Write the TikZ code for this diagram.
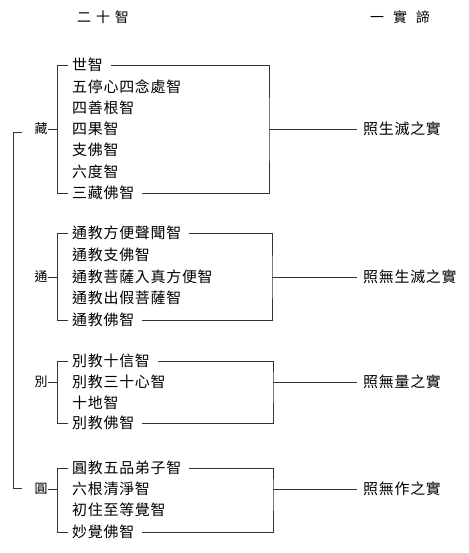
\documentclass[tikz,border=0pt]{standalone}
\usepackage{fontspec}
\newfontfamily\cjk{Noto Sans CJK TC}
\newfontfamily\cjkw[LetterSpace=5]{Noto Sans CJK TC}
\begin{document}
\begin{tikzpicture}[x=1bp,y=-1bp,
  item/.style={anchor=west,inner sep=0pt,font=\cjkw\fontsize{15}{15}\selectfont},
  lab/.style={inner sep=0pt,font=\cjk\fontsize{13}{13}\selectfont},
  res/.style={anchor=west,inner sep=0pt,font=\cjkw\fontsize{15}{15}\selectfont},
  head/.style={inner sep=0pt,font=\cjk\fontsize{14}{14}\selectfont},
  ln/.style={line width=0.8bp,black!80}]
\useasboundingbox (0,0) rectangle (469,553);
\fill[white] (0,0) rectangle (469,553);
% headers
\node[head] (h1) at (103,17) {二\hspace{5bp}十\hspace{5bp}智};
\node[head] (h2) at (400,17) {一\hspace{9bp}實\hspace{9bp}諦};
% group 1
\node[item] (a1) at (72,65) {世智};
\node[item] (a2) at (72,87) {五停心四念處智};
\node[item] (a3) at (72,108) {四善根智};
\node[item] (a4) at (72,129) {四果智};
\node[item] (a5) at (72,150) {支佛智};
\node[item] (a6) at (72,172) {六度智};
\node[item] (a7) at (72,193) {三藏佛智};
\node[lab] (A) at (41,129) {藏};
\node[res] (RA) at (363,129) {照生滅之實};
\coordinate (RA0) at (269,129);
\draw[ln] ([xshift=-4]a1.west) -- ++(-11,0) |- ([xshift=-4]a7.west);
\draw[ln] (A.east) -- ++(9.5,0);
\draw[ln] ([xshift=8]a1.east) -| (RA0) |- ([xshift=8]a7.east);
\draw[ln] (RA0) -- ([xshift=-6]RA.west);
% group 2
\node[item] (b1) at (72,233) {通教方便聲聞智};
\node[item] (b2) at (72,255) {通教支佛智};
\node[item] (b3) at (72,277) {通教菩薩入真方便智};
\node[item] (b4) at (72,298) {通教出假菩薩智};
\node[item] (b5) at (72,320) {通教佛智};
\node[lab] (B) at (41,277) {通};
\node[res] (RB) at (363,277) {照無生滅之實};
\coordinate (RB0) at (272,277);
\draw[ln] ([xshift=-4]b1.west) -- ++(-11,0) |- ([xshift=-4]b5.west);
\draw[ln] (B.east) -- ++(9.5,0);
\draw[ln] ([xshift=8]b1.east) -| (RB0) |- ([xshift=8]b5.east);
\draw[ln] (RB0) -- ([xshift=-6]RB.west);
% group 3
\node[item] (c1) at (72,361) {別教十信智};
\node[item] (c2) at (72,382) {別教三十心智};
\node[item] (c3) at (72,403) {十地智};
\node[item] (c4) at (72,423) {別教佛智};
\node[lab] (C) at (41,382) {別};
\node[res] (RC) at (363,382) {照無量之實};
\coordinate (RC0) at (273,382);
\draw[ln] ([xshift=-4]c1.west) -- ++(-11,0) |- ([xshift=-4]c4.west);
\draw[ln] (C.east) -- ++(9.5,0);
\draw[ln] ([xshift=8]c1.east) -| (RC0) |- ([xshift=8]c4.east);
\draw[ln] (RC0) -- ([xshift=-6]RC.west);
% group 4
\node[item] (d1) at (72,468) {圓教五品弟子智};
\node[item] (d2) at (72,489) {六根清淨智};
\node[item] (d3) at (72,510) {初住至等覺智};
\node[item] (d4) at (72,532) {妙覺佛智};
\node[lab] (D) at (41,489) {圓};
\node[res] (RD) at (363,489) {照無作之實};
\coordinate (RD0) at (273,489);
\draw[ln] ([xshift=-4]d1.west) -- ++(-11,0) |- ([xshift=-4]d4.west);
\draw[ln] (D.east) -- ++(9.5,0);
\draw[ln] ([xshift=8]d1.east) -| (RD0) |- ([xshift=8]d4.east);
\draw[ln] (RD0) -- ([xshift=-6]RD.west);
% outer bracket
\coordinate (o1) at (22,132);
\coordinate (o2) at (22,488);
\draw[ln] (o1) -- ++(-9,0) |- (o2);
\end{tikzpicture}
\end{document}
